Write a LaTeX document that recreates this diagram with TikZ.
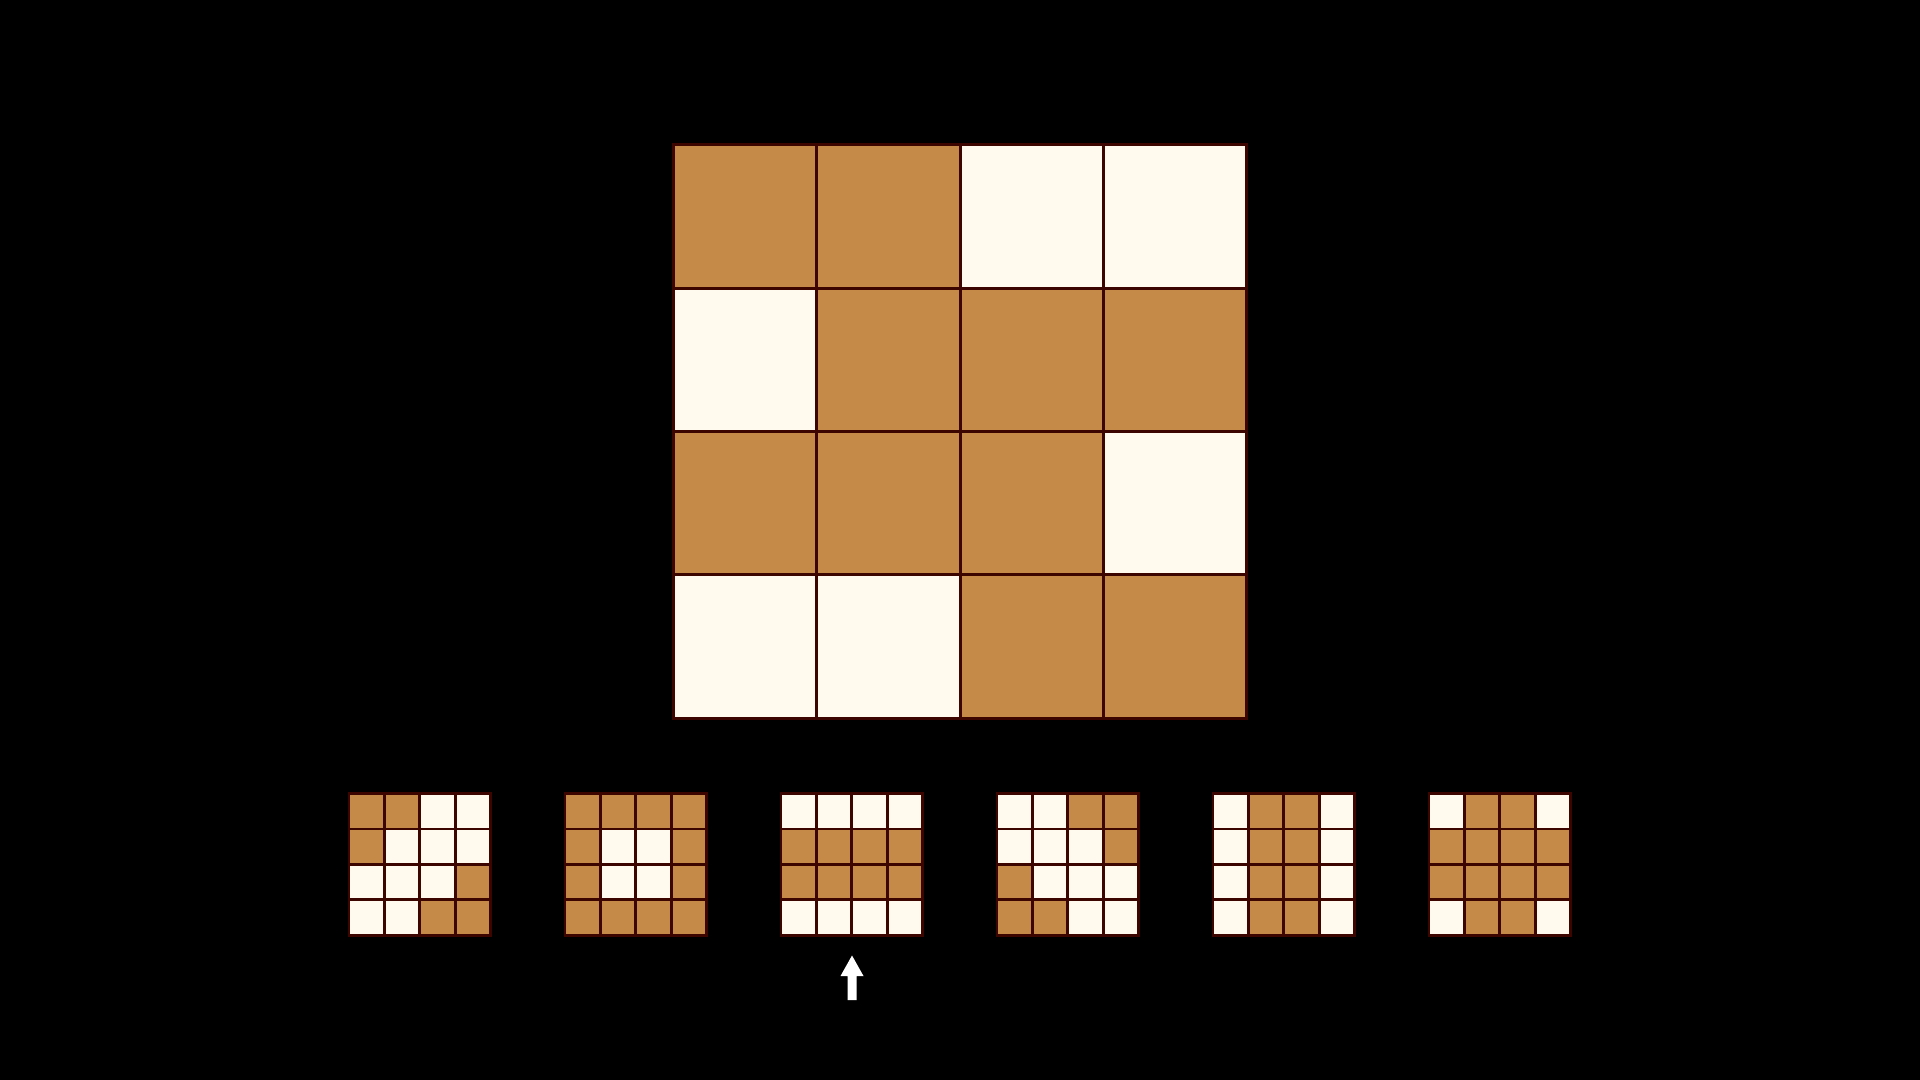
\documentclass[tikz,border=0pt]{standalone}
\definecolor{cellB}{HTML}{C68A48}
\definecolor{cellC}{HTML}{FFF9EE}
\definecolor{gridline}{HTML}{3D0500}
\tikzset{
  bigcell/.style={draw=gridline, line width=1.5pt},
  smallcell/.style={draw=gridline, line width=1.4pt},
  pointer/.style={fill=white, draw=none}
}
% #1 x, #2 y, #3 cell size, #4 style, #5 pattern (rows)
\newcommand\mygrid[5]{%
  \foreach \rowpat [count=\r from 0] in {#5} {%
    \foreach \v [count=\c from 0] in \rowpat {%
      \ifnum\v=1 \def\fc{cellB}\else\def\fc{cellC}\fi
      \path[#4, fill=\fc] ({#1+\c*#3},{#2+\r*#3}) rectangle ++(#3,#3);
    }%
  }%
}
\begin{document}
\begin{tikzpicture}[x=0.5pt,y=-0.5pt]
\fill[black] (0,0) rectangle (1920,1080);
\useasboundingbox (0,0) rectangle (1920,1080);
% main grid
\mygrid{673.5}{145}{143.3}{bigcell}{{1,1,0,0},{0,1,1,1},{1,1,1,0},{0,0,1,1}}
% small grids
\mygrid{349}{793.5}{35.4}{smallcell}{{1,1,0,0},{1,0,0,0},{0,0,0,1},{0,0,1,1}}
\mygrid{565}{793.5}{35.4}{smallcell}{{1,1,1,1},{1,0,0,1},{1,0,0,1},{1,1,1,1}}
\mygrid{781}{793.5}{35.4}{smallcell}{{0,0,0,0},{1,1,1,1},{1,1,1,1},{0,0,0,0}}
\mygrid{997}{793.5}{35.4}{smallcell}{{0,0,1,1},{0,0,0,1},{1,0,0,0},{1,1,0,0}}
\mygrid{1213}{793.5}{35.4}{smallcell}{{0,1,1,0},{0,1,1,0},{0,1,1,0},{0,1,1,0}}
\mygrid{1429}{793.5}{35.4}{smallcell}{{0,1,1,0},{1,1,1,1},{1,1,1,1},{0,1,1,0}}
% arrow
\coordinate (tip) at (852,955.5);
\fill[pointer] (tip) -- (863.5,976) -- (856.5,976) -- (856.5,1000) -- (847.5,1000) -- (847.5,976) -- (840.5,976) -- cycle;
\end{tikzpicture}
\end{document}
